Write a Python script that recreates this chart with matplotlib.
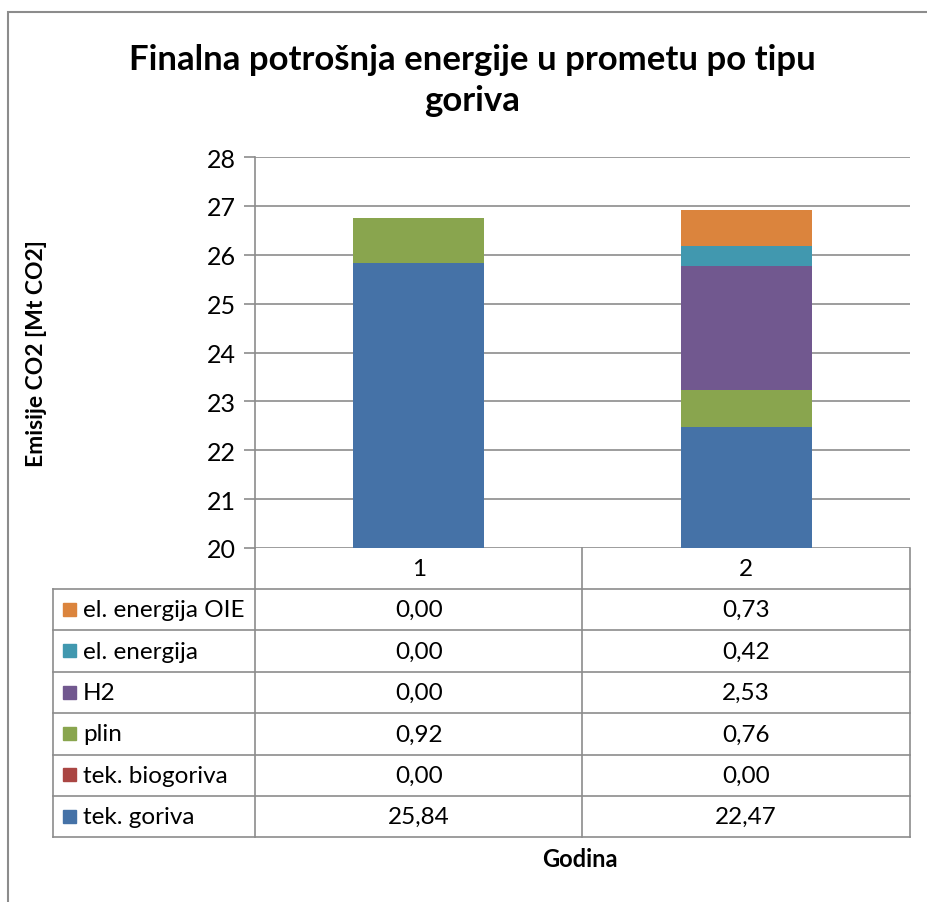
import numpy as np
import matplotlib.pyplot as plt
from matplotlib.patches import Rectangle
from matplotlib.lines import Line2D

plt.rcParams['font.family'] = ['Lato', 'DejaVu Sans']

# podaci
godine = ["1", "2"]
serije = ["tek. goriva", "tek. biogoriva", "plin", "H2", "el. energija", "el. energija OIE"]
tek_goriva = [25.84, 22.47]
tek_biogoriva = [0.00, 0.00]
plin = [0.92, 0.76]
h2 = [0.00, 2.53]
el_energija = [0.00, 0.42]
el_energija_oie = [0.00, 0.73]
vrijednosti = [tek_goriva, tek_biogoriva, plin, h2, el_energija, el_energija_oie]
boje = ["#4572A7", "#AA4643", "#89A54E", "#71588F", "#4198AF", "#DB843D"]

W, H = 928, 903
siva = "#8c8c8c"


def fx(x):
    return x / W


def fy(y):
    return 1 - y / H


fig = plt.figure(figsize=(W / 100, H / 100), dpi=100)

# okvir grafikona
fig.patches.append(Rectangle((fx(8), fy(905)), fx(930), fy(13) - fy(905),
                             transform=fig.transFigure, fill=False,
                             edgecolor=siva, linewidth=1.5))

# os
ax_l, ax_r, ax_t, ax_b = 255, 910, 158, 549
ax = fig.add_axes([fx(ax_l), fy(ax_b), fx(ax_r - ax_l), fy(ax_t) - fy(ax_b)])

x = np.arange(len(godine))
dno = np.zeros(len(godine))
for vals, boja in zip(vrijednosti, boje):
    ax.bar(x, vals, 0.4, bottom=dno, color=boja, edgecolor="none", zorder=3)
    dno += np.array(vals)

ax.set_xlim(-0.5, len(godine) - 0.5)
ax.set_ylim(20, 28)
ax.set_yticks(range(20, 29))
ax.set_xticks([])
ax.grid(axis="y", color=siva, linewidth=1.2, zorder=0)
for s in ["top", "right", "bottom"]:
    ax.spines[s].set_visible(False)
ax.spines["left"].set_color(siva)
ax.spines["left"].set_linewidth(1.2)
ax.tick_params(axis="y", length=8, width=1.2, color=siva, labelsize=18, pad=6)

fig.text(fx(37), fy((ax_t + ax_b) / 2), "Emisije CO2 [Mt CO2]", rotation=90,
         ha="center", va="center", fontsize=16.5, fontweight="bold")

fig.text(fx(472), fy(60), "Finalna potrošnja energije u prometu po tipu",
         ha="center", va="center", fontsize=25, fontweight="bold")
fig.text(fx(472), fy(101), "goriva",
         ha="center", va="center", fontsize=25, fontweight="bold")

# tablica podataka
tab_l = 53
red_h = 41.4
zag_b = 590
stupci = np.linspace(ax_l, ax_r, len(godine) + 1)
n_red = len(serije)
tab_b = zag_b + n_red * red_h


def linija(x0, y0, x1, y1):
    fig.lines.append(Line2D([fx(x0), fx(x1)], [fy(y0), fy(y1)],
                            transform=fig.transFigure, color=siva, linewidth=1.2))


for c in stupci:
    linija(c, ax_b, c, tab_b)
linija(tab_l, zag_b, tab_l, tab_b)
for i in range(n_red + 1):
    yy = zag_b + i * red_h
    linija(tab_l, yy, ax_r, yy)

for j, g in enumerate(godine):
    cx = (stupci[j] + stupci[j + 1]) / 2
    fig.text(fx(cx), fy((ax_b + zag_b) / 2), g, ha="center", va="center", fontsize=17.5)

for i, k in enumerate(range(n_red - 1, -1, -1)):
    cy = zag_b + (i + 0.5) * red_h
    fig.patches.append(Rectangle((fx(63), fy(cy + 6)), fx(13), fy(cy - 7) - fy(cy + 6),
                                 transform=fig.transFigure, color=boje[k]))
    fig.text(fx(83), fy(cy), serije[k], ha="left", va="center", fontsize=17.5)
    for j in range(len(godine)):
        cx = (stupci[j] + stupci[j + 1]) / 2
        tekst = f"{vrijednosti[k][j]:.2f}".replace(".", ",")
        fig.text(fx(cx), fy(cy), tekst, ha="center", va="center", fontsize=17.5)

fig.text(fx(580), fy(860), "Godina", ha="center", va="center",
         fontsize=17, fontweight="bold")

fig.savefig("out.png", dpi=100)
